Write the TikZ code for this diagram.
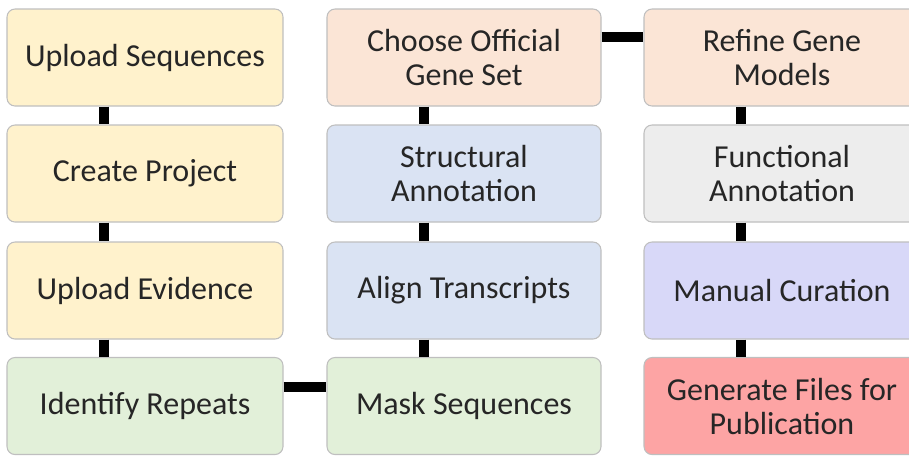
\documentclass[tikz,border=0pt]{standalone}
\usepackage{fontspec}
\setmainfont{Carlito}
\begin{document}
\begin{tikzpicture}[x=0.75pt,y=-0.75pt,
  stage/.style={draw=black!25, line width=0.8pt, rounded corners=6pt,
    minimum width=207pt, minimum height=72.75pt, inner sep=0pt,
    align=center, text=black!85,
    font=\fontsize{24}{25.5}\selectfont},
  conn/.style={line width=7.5pt, black},
]
\definecolor{cream}{HTML}{FFF2CC}
\definecolor{peach}{HTML}{FBE5D6}
\definecolor{paleblue}{HTML}{DAE3F3}
\definecolor{palegray}{HTML}{EDEDED}
\definecolor{lavender}{HTML}{D8D8F8}
\definecolor{rosered}{HTML}{FDA4A4}
\definecolor{palegreen}{HTML}{E2F0D9}
\useasboundingbox (0,0) rectangle (909,455);

% first column
\node[stage, fill=cream] (upseq) at (145,57.5) {Upload Sequences};
\node[stage, fill=cream] (proj) at (145,173.5) {Create Project};
\node[stage, fill=cream] (upev) at (145,290.5) {Upload Evidence};
\node[stage, fill=palegreen] (rep) at (145,406) {Identify Repeats};

% second column
\node[stage, fill=peach, minimum width=205.5pt] (choose) at (464,57.5) {Choose Official\\Gene Set};
\node[stage, fill=paleblue, minimum width=205.5pt] (struct) at (464,173.5) {Structural\\Annotation};
\node[stage, fill=paleblue, minimum width=205.5pt] (align) at (464,290.5) {Align Transcripts};
\node[stage, fill=palegreen, minimum width=205.5pt] (mask) at (464,406) {Mask Sequences};

% third column (runs past the right edge)
\node[stage, fill=peach] (refine) at (782,57.5) {Refine Gene\\Models};
\node[stage, fill=palegray] (func) at (782,173.5) {Functional\\Annotation};
\node[stage, fill=lavender] (cur) at (782,290.5) {Manual Curation};
\node[stage, fill=rosered] (gen) at (782,406) {Generate Files for\\Publication};

% vertical links, upper box to lower box
\foreach \a/\b in {upseq/proj, proj/upev, upev/rep,
                   choose/struct, struct/align, align/mask,
                   refine/func, func/cur, cur/gen}
  \draw[conn] ([xshift=73.5pt]\a.south west) -- ([xshift=73.5pt]\b.north west);

% horizontal links
\draw[conn] ([yshift=-22.5pt]rep.north east) -- ([yshift=-22.5pt]mask.north west);
\draw[conn] ([yshift=-21.4pt]choose.north east) -- ([yshift=-21.4pt]refine.north west);
\end{tikzpicture}
\end{document}
